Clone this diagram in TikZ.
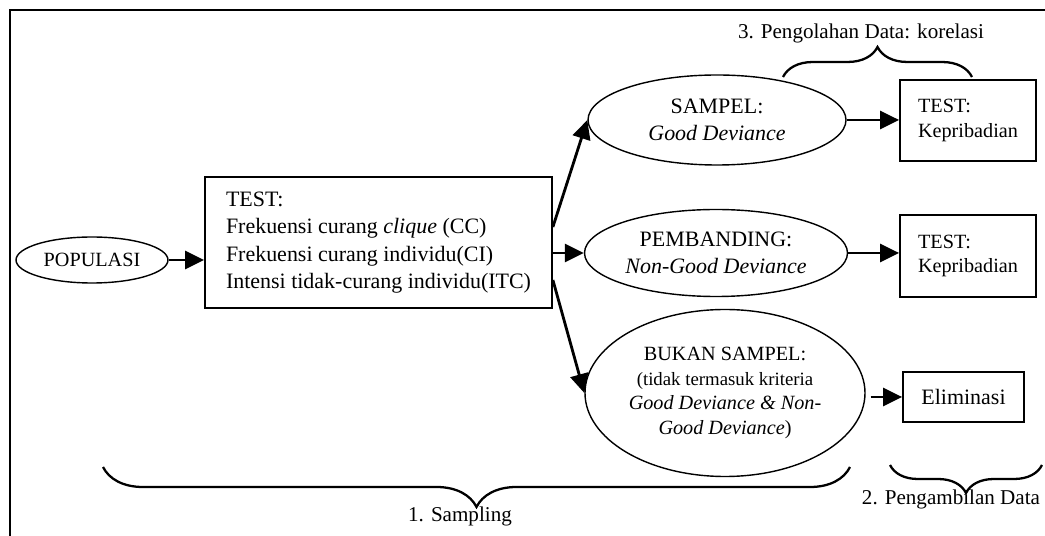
\documentclass[tikz,border=0pt]{standalone}
\usepackage{fontspec}
\setmainfont{Liberation Serif}
\usetikzlibrary{positioning,shapes.geometric,arrows.meta,decorations.pathreplacing}

\begin{document}
\begin{tikzpicture}[
    font=\fontsize{12.5}{15.5}\selectfont,
    >={Triangle[length=0.38cm,width=0.36cm]},
    group/.style={
        ellipse,
        draw=black, line width=0.8pt,
        inner sep=0pt,
        align=center
    },
    testbox/.style={
        rectangle,
        draw=black, line width=1pt,
        inner sep=0pt,
        align=left
    },
    flow/.style={
        ->, line width=1.6pt
    },
    stagebrace/.style={
        decorate, decoration={brace, amplitude=#1},
        line width=1.3pt
    },
    stagelabel/.style={
        font=\fontsize{12}{14}\selectfont
    },
    smalltext/.style={
        font=\fontsize{11.5}{14}\selectfont
    }
]

\useasboundingbox (0,0) rectangle (20.9,-10.72);

% Outer frame
\draw[line width=1.1pt] (0.2,-10.72) |- (20.9,-0.2);

% COLUMN 1: Population
\node[group, smalltext, minimum width=3.04cm, minimum height=0.92cm] at (1.84,-5.2) (populasi) {POPULASI};

% COLUMN 2: Screening test
\node[testbox, minimum width=6.94cm, minimum height=2.62cm] at (7.57,-4.85) (screening) {TEST:\\Frekuensi curang \textit{clique} (CC)\\Frekuensi curang individu(CI)\\Intensi tidak-curang individu(ITC)};

% COLUMN 3: Groups
\node[group, minimum width=5.16cm, minimum height=1.8cm] at (14.34,-2.4) (sampel) {SAMPEL:\\\textit{Good Deviance}};
\node[group, minimum width=5.26cm, minimum height=1.74cm] at (14.32,-5.06) (pembanding) {PEMBANDING:\\\textit{Non-Good Deviance}};
\node[group, font=\fontsize{11.5}{14}\selectfont, minimum width=5.6cm, minimum height=3.34cm] at (14.5,-7.86) (bukan) {BUKAN SAMPEL:\\
    \fontsize{10.7}{12.2}\selectfont (tidak termasuk kriteria\\\textit{Good Deviance \& Non-}\\\textit{Good Deviance})};

% COLUMN 4: Data collection
\node[testbox, smalltext, minimum width=2.72cm, minimum height=1.62cm] at (19.36,-2.41) (kepribadian1) {TEST:\\Kepribadian};
\node[testbox, smalltext, minimum width=2.72cm, minimum height=1.64cm] at (19.36,-5.12) (kepribadian2) {TEST:\\Kepribadian};
\node[testbox, align=center, minimum width=2.42cm, minimum height=1.0cm] at (19.27,-7.94) (eliminasi) {Eliminasi};

% === CONNECTIONS ===
\draw[flow] (populasi.east) -- (populasi.east -| screening.west);
\draw[flow] ([yshift=0.31cm]screening.east) -- (sampel.west);
\draw[flow] (screening.east |- pembanding.west) -- (pembanding.west);
\draw[flow] ([yshift=-0.75cm]screening.east) -- (bukan.west);
\draw[flow] (sampel.east) -- (sampel.east -| kepribadian1.west);
\draw[flow] (pembanding.east) -- (pembanding.east -| kepribadian2.west);
\draw[flow] ([xshift=0.1cm]eliminasi.west -| bukan.east) -- (eliminasi.west);

% === STAGES ===
\coordinate (olahA) at (15.66,-1.54);
\coordinate (olahB) at (19.44,-1.54);
\draw[stagebrace=0.6cm] (olahA) -- (olahB);
\node[stagelabel] at (17.22,-0.66) (olahlbl) {3. Pengolahan Data: korelasi};

\coordinate (ambilA) at (20.84,-9.3);
\coordinate (ambilB) at (17.8,-9.3);
\draw[stagebrace=0.56cm] (ambilA) -- (ambilB);
\node[stagelabel] at (19.02,-9.98) (ambillbl) {2. Pengambilan Data};

\coordinate (sampA) at (17.0,-9.34);
\coordinate (sampB) at (2.06,-9.34);
\draw[stagebrace=0.8cm] (sampA) -- (sampB);
\node[stagelabel] at (9.2,-10.32) (samplbl) {1. Sampling};

\end{tikzpicture}
\end{document}
